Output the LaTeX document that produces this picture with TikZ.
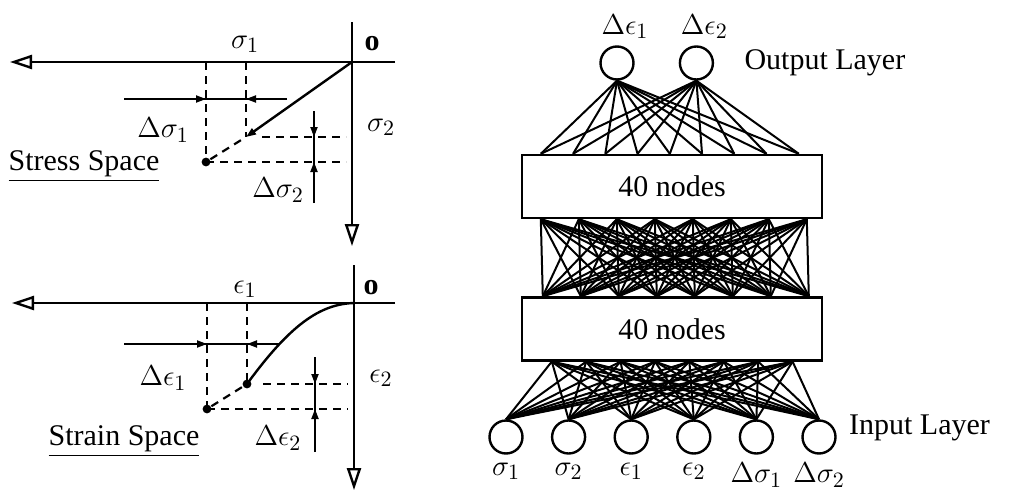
\documentclass[tikz,border=0pt]{standalone}
\usepackage{fontspec}
\setmainfont{Liberation Serif}
\usetikzlibrary{arrows.meta, positioning, calc}

\tikzset{
  axis/.style={line width=1.2pt, -{Triangle[open, length=11pt, width=7pt]}},
  guide/.style={line width=1.1pt, dash pattern=on 4pt off 3pt},
  dimline/.style={line width=1pt, -{Triangle[length=5pt, width=3.5pt]}},
  loadpath/.style={line width=1.2pt, -{Triangle[length=5pt, width=3.5pt]}},
  lbl/.style={font=\fontsize{15}{18}\selectfont, inner sep=1pt},
  neuron/.style={circle, draw, line width=1.2pt, minimum size=16.5pt, inner sep=0pt},
  hidden/.style={
    rectangle, draw, line width=1.2pt, fill=white,
    minimum width=150pt, minimum height=31.5pt,
    font=\fontsize{15}{18}\selectfont
  },
  weight/.style={line width=1pt}
}

\begin{document}
\begin{tikzpicture}[x=0.5pt, y=-0.5pt]
  \useasboundingbox (0,0) rectangle (1018,498);

  % stress space
  \coordinate (so) at (352,62);
  \coordinate (sxs) at (395,62);
  \coordinate (sxe) at (10,62);
  \coordinate (sys) at (352,22);
  \coordinate (sye) at (352,246);
  \coordinate (sa) at (246,137);
  \coordinate (sb) at (206,162);
  \coordinate (sd1) at (124,99);
  \coordinate (sd2) at (287,99);
  \coordinate (sd3) at (314,111);
  \coordinate (sd4) at (314,203);

  \draw[axis] (sxs) -- (sxe);
  \draw[axis] (sys) -- (sye);
  \draw[guide] (sa |- so) -- (sa);
  \draw[guide] (sb |- so) -- (sb);
  \draw[guide, shorten <=3pt] (sa) -- (sb);
  \draw[guide, shorten <=8pt, shorten >=3pt] (sa) -- (sa -| so);
  \draw[guide, shorten >=3pt] (sb) -- (sb -| so);
  \draw[loadpath] (so) -- (sa);
  \fill (sb) circle (2.2pt);

  \draw[line width=1pt] (sd1) -- (sd2);
  \draw[dimline] (sd1) -- (sb |- sd1);
  \draw[dimline] (sd2) -- (sa |- sd1);
  \draw[line width=1pt] (sd3) -- (sd4);
  \draw[dimline] (sd3) -- (sd3 |- sa);
  \draw[dimline] (sd4) -- (sd3 |- sb);

  \node[lbl] (so-o) at (372,44) {\textbf{o}};
  \node[lbl] (ssig1) at (245,44) {$\sigma_1$};
  \node[lbl] (ssig2) at (381,127) {$\sigma_2$};
  \node[lbl] (sdsig1) at (163,130) {$\Delta\sigma_1$};
  \node[lbl] (sdsig2) at (278,190) {$\Delta\sigma_2$};
  \node[lbl] (stresslbl) at (84,166) {\underline{Stress Space}};

  % strain space
  \coordinate (eo) at (354,303);
  \coordinate (exs) at (395,303);
  \coordinate (exe) at (12,303);
  \coordinate (eys) at (354,265);
  \coordinate (eye) at (354,490);
  \coordinate (ea) at (247,384);
  \coordinate (eb) at (207,409);
  \coordinate (ed1) at (124,344);
  \coordinate (ed2) at (280,344);
  \coordinate (ed3) at (315,357);
  \coordinate (ed4) at (315,452);

  \draw[axis] (exs) -- (exe);
  \draw[axis] (eys) -- (eye);
  \draw[guide] (ea |- eo) -- (ea);
  \draw[guide] (eb |- eo) -- (eb);
  \draw[guide, shorten <=3pt] (ea) -- (eb);
  \draw[guide, shorten <=8pt, shorten >=3pt] (ea) -- (ea -| eo);
  \draw[guide, shorten >=3pt] (eb) -- (eb -| eo);
  \draw[line width=1.2pt] (eo) .. controls (320,304) and (290,325) .. (ea);
  \fill (ea) circle (2.2pt);
  \fill (eb) circle (2.2pt);

  \draw[line width=1pt] (ed1) -- (ed2);
  \draw[dimline] (ed1) -- (eb |- ed1);
  \draw[dimline] (ed2) -- (ea |- ed1);
  \draw[line width=1pt] (ed3) -- (ed4);
  \draw[dimline] (ed3) -- (ed3 |- ea);
  \draw[dimline] (ed4) -- (ed3 |- eb);

  \node[lbl] (eo-o) at (371,288) {\textbf{o}};
  \node[lbl] (eeps1) at (245,289) {$\epsilon_1$};
  \node[lbl] (eeps2) at (381,378) {$\epsilon_2$};
  \node[lbl] (edeps1) at (163,378) {$\Delta\epsilon_1$};
  \node[lbl] (edeps2) at (278,438) {$\Delta\epsilon_2$};
  \node[lbl] (strainlbl) at (124,441) {\underline{Strain Space}};

  % network
  \node[neuron] (out1) at (617,63) {};
  \node[neuron, right=22pt of out1] (out2) {};
  \node[lbl, above=2pt of out1, xshift=4pt] (outlbl1) {$\Delta\epsilon_1$};
  \node[lbl, above=2pt of out2, xshift=4pt] (outlbl2) {$\Delta\epsilon_2$};
  \node[lbl, right=14pt of out2] (outlayer) {Output Layer};

  \node[hidden] (hidA) at (672,186.5) {40 nodes};
  \node[hidden, below=38.5pt of hidA] (hidB) {40 nodes};

  \foreach \i/\t in {1/\sigma_1, 2/\sigma_2, 3/\epsilon_1, 4/\epsilon_2,
                     5/\Delta\sigma_1, 6/\Delta\sigma_2} {
    \node[neuron] (in\i) at ({506+(\i-1)*62.6},437) {};
    \node[lbl, below=3pt of in\i] (inlbl\i) {$\t$};
  }
  \node[lbl, right=5pt of in6, yshift=4.5pt] (inlayer) {Input Layer};

  \foreach \k in {1,...,9}
    \coordinate (ta\k) at ($(hidA.north west)+({20+(\k-1)*32.25},0)$);
  \foreach \k in {1,...,8} {
    \coordinate (ba\k) at ($(hidA.south west)+({20+(\k-1)*38},0)$);
    \coordinate (tb\k) at ($(hidB.north west)+({22+(\k-1)*38},0)$);
    \coordinate (bb\k) at ($(hidB.south west)+({31+(\k-1)*34.4},0)$);
  }

  \foreach \j in {1,2}
    \foreach \k in {1,...,9}
      \draw[weight] (out\j.south) -- (ta\k);
  \foreach \j in {1,...,8}
    \foreach \k in {1,...,8}
      \draw[weight] (tb\j) -- (ba\k);
  \foreach \j in {1,...,6}
    \foreach \k in {1,...,8}
      \draw[weight] (in\j.north) -- (bb\k);
\end{tikzpicture}
\end{document}
